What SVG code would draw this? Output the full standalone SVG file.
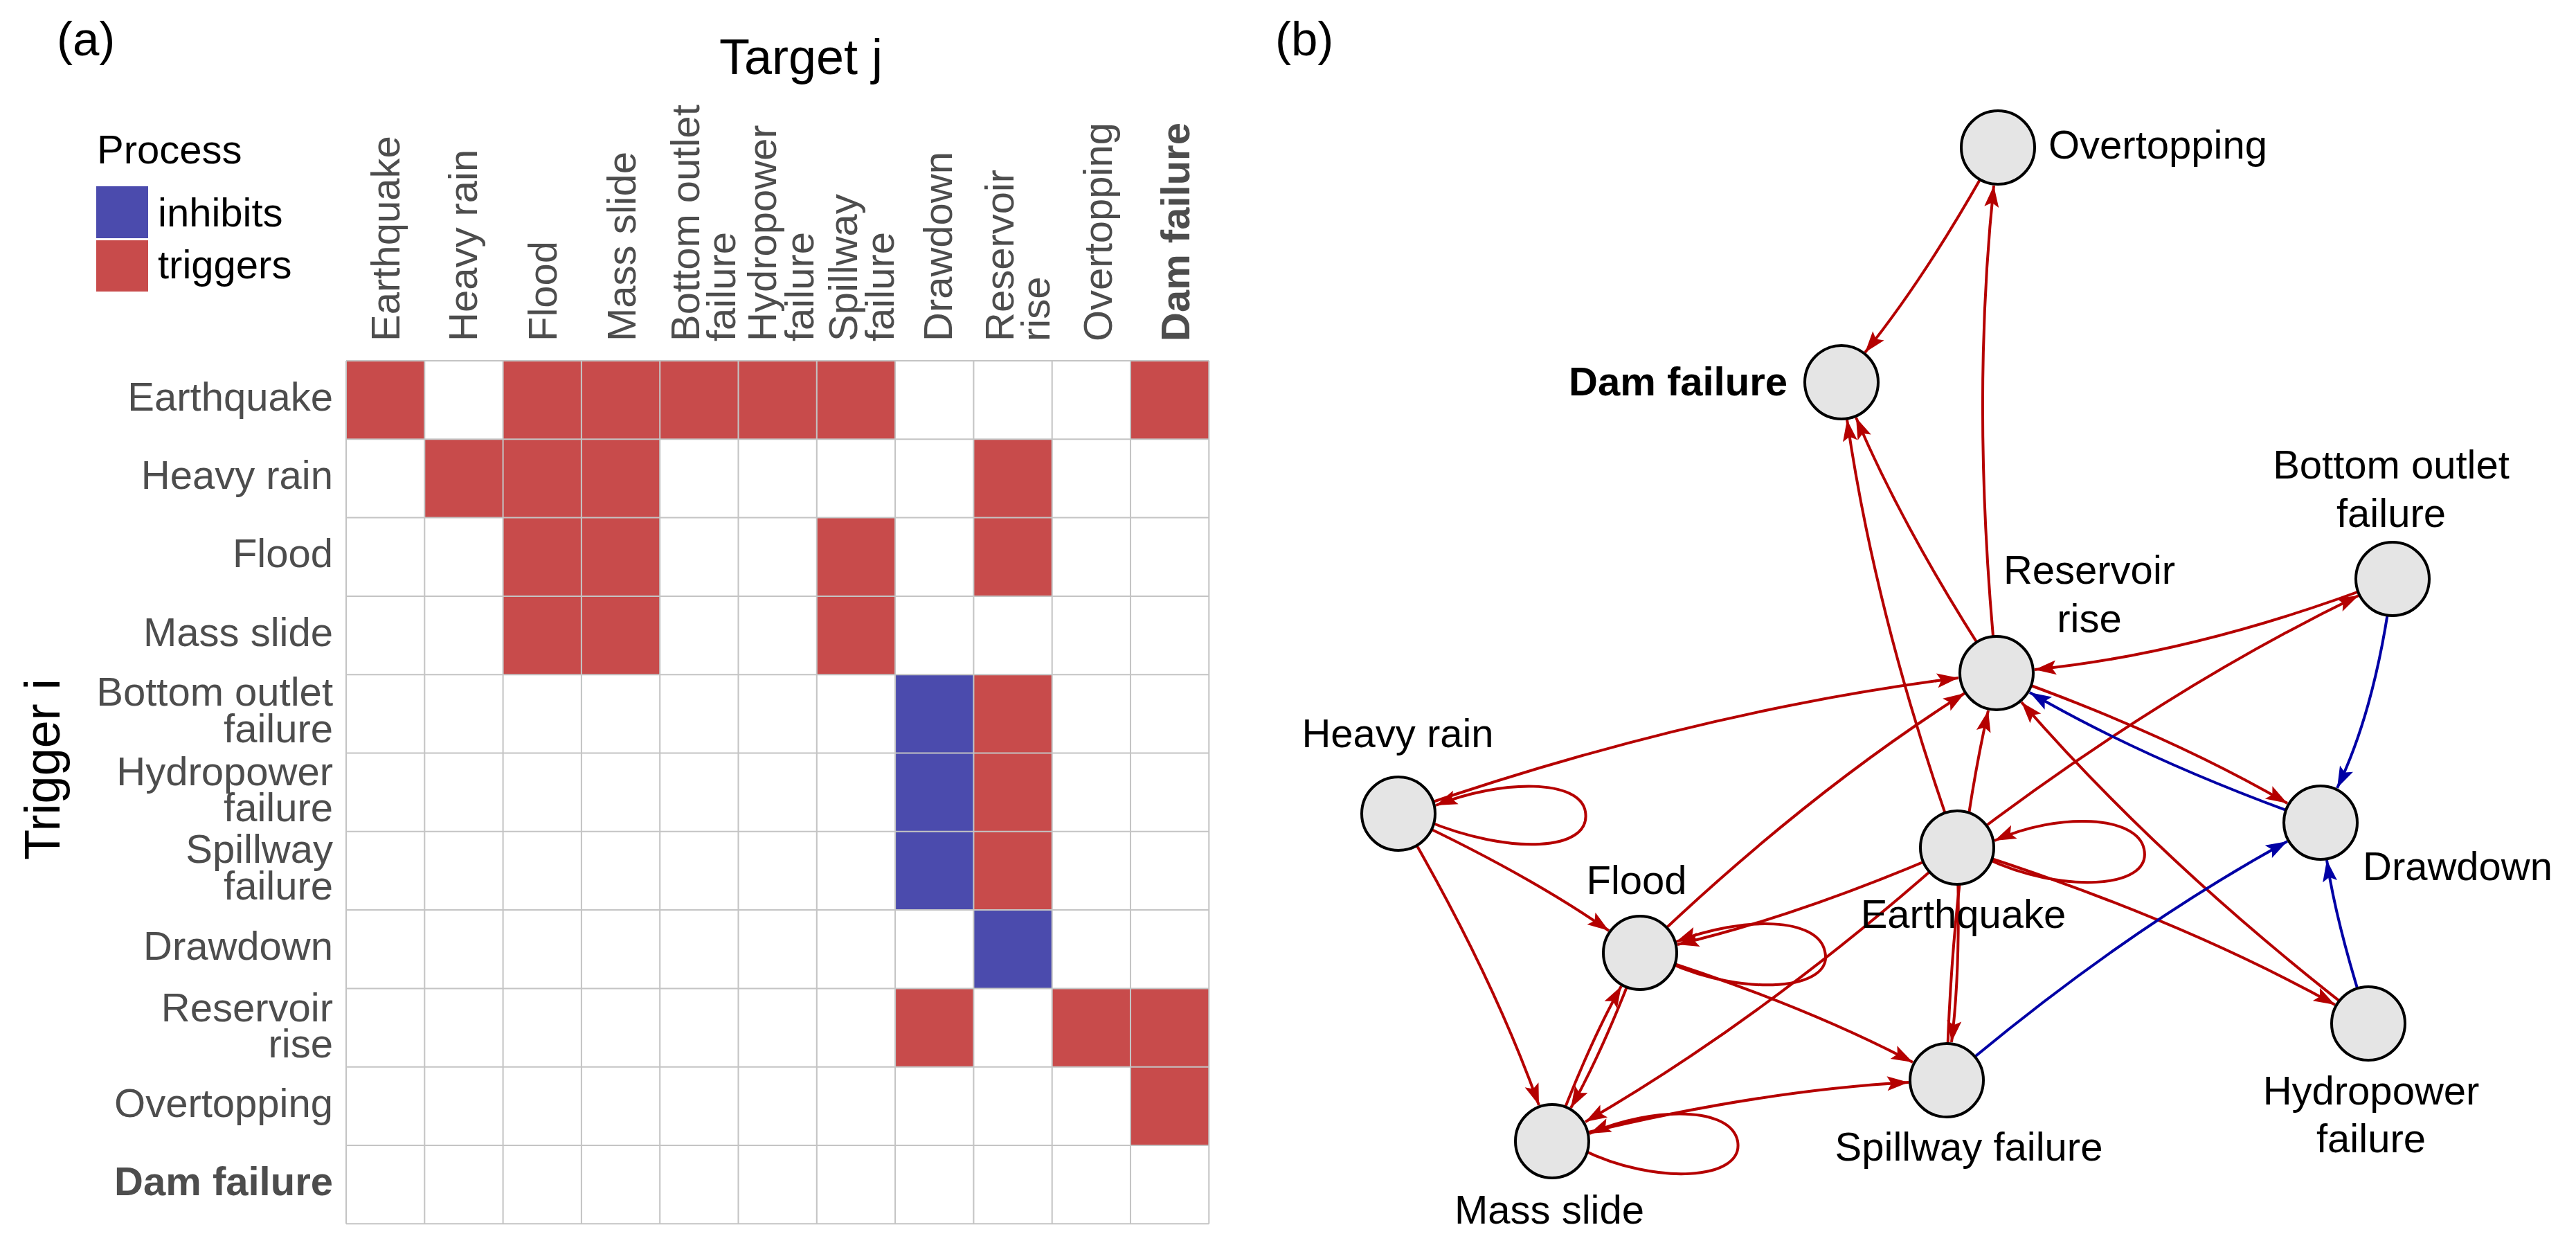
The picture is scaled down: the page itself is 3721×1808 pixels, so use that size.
<svg xmlns="http://www.w3.org/2000/svg" width="3721" height="1808" viewBox="0 0 3721 1808">
<style>
text{font-family:"Liberation Sans",Arial,Helvetica,sans-serif}
.ax{font-size:58px;fill:#4d4d4d}
.ttl{font-size:72px;fill:#000}
.lg{font-size:58px;fill:#000}
.pl{font-size:69px;fill:#000}
.b{font-weight:bold}
.tr{fill:#c84b4b}
.in{fill:#4b4bad}
.gl{stroke:#c4c4c4;stroke-width:1.8;fill:none}
.node circle{fill:#e5e5e5;stroke:#000;stroke-width:4}
.node text{font-size:58px;fill:#000}
.er{fill:none;stroke:#b50000;stroke-width:4;marker-end:url(#ar)}
.eb{fill:none;stroke:#0000a5;stroke-width:4;marker-end:url(#ab)}
</style>
<defs>
<marker id="ar" markerUnits="userSpaceOnUse" viewBox="-34 -12 36 24" markerWidth="36" markerHeight="24" refX="0" refY="0" orient="auto"><path d="M0,0 L-31,-10.5 L-25,0 L-31,10.5 Z" fill="#b50000"/></marker>
<marker id="ab" markerUnits="userSpaceOnUse" viewBox="-34 -12 36 24" markerWidth="36" markerHeight="24" refX="0" refY="0" orient="auto"><path d="M0,0 L-31,-10.5 L-25,0 L-31,10.5 Z" fill="#0000a5"/></marker>
</defs>
<rect width="3721" height="1808" fill="#fff"/>

<!-- Panel (a) -->
<g id="panel-a">
<text class="pl" x="82" y="80">(a)</text>
<text class="ttl" x="1157" y="107" text-anchor="middle">Target j</text>
<text class="ttl" transform="translate(86,1111) rotate(-90)" text-anchor="middle">Trigger i</text>
<g id="legend">
<text class="lg" x="140" y="236">Process</text>
<rect class="in" x="139" y="269" width="75" height="75"/>
<rect class="tr" x="139" y="347" width="75" height="74"/>
<text class="lg" x="228" y="327">inhibits</text>
<text class="lg" x="228" y="402">triggers</text>
</g>
<g id="col-labels" class="ax">
<text transform="translate(577,493) rotate(-90)">Earthquake</text>
<text transform="translate(689,493) rotate(-90)">Heavy rain</text>
<text transform="translate(804,493) rotate(-90)">Flood</text>
<text transform="translate(918,493) rotate(-90)">Mass slide</text>
<text transform="translate(1010,493) rotate(-90)"><tspan x="0" y="0">Bottom outlet</tspan><tspan x="0" y="52">failure</tspan></text>
<text transform="translate(1121,493) rotate(-90)"><tspan x="0" y="0">Hydropower</tspan><tspan x="0" y="54">failure</tspan></text>
<text transform="translate(1238,493) rotate(-90)"><tspan x="0" y="0">Spillway</tspan><tspan x="0" y="53">failure</tspan></text>
<text transform="translate(1375,493) rotate(-90)">Drawdown</text>
<text transform="translate(1464,493) rotate(-90)"><tspan x="0" y="0">Reservoir</tspan><tspan x="0" y="52">rise</tspan></text>
<text transform="translate(1606,493) rotate(-90)">Overtopping</text>
<text class="b" transform="translate(1718,493) rotate(-90)">Dam failure</text>
</g>
<g id="row-labels" class="ax" text-anchor="end">
<text x="481" y="593">Earthquake</text>
<text x="481" y="706">Heavy rain</text>
<text x="481" y="819">Flood</text>
<text x="481" y="933">Mass slide</text>
<text x="481" y="1019"><tspan x="481" y="1019">Bottom outlet</tspan><tspan x="481" y="1072">failure</tspan></text>
<text x="481" y="1134"><tspan x="481" y="1134">Hydropower</tspan><tspan x="481" y="1186">failure</tspan></text>
<text x="481" y="1246"><tspan x="481" y="1246">Spillway</tspan><tspan x="481" y="1299">failure</tspan></text>
<text x="481" y="1386">Drawdown</text>
<text x="481" y="1475"><tspan x="481" y="1475">Reservoir</tspan><tspan x="481" y="1527">rise</tspan></text>
<text x="481" y="1613">Overtopping</text>
<text class="b" x="481" y="1726">Dam failure</text>
</g>
<g id="matrix" transform="translate(500,521) scale(1.133)">
<rect width="1100" height="1100" fill="#fff"/>
<g class="tr">
<rect x="0" y="0" width="100" height="100"/>
<rect x="200" y="0" width="500" height="100"/>
<rect x="1000" y="0" width="100" height="100"/>
<rect x="100" y="100" width="300" height="100"/>
<rect x="800" y="100" width="100" height="200"/>
<rect x="200" y="200" width="200" height="200"/>
<rect x="600" y="200" width="100" height="200"/>
<rect x="800" y="400" width="100" height="300"/>
<rect x="700" y="800" width="100" height="100"/>
<rect x="900" y="800" width="200" height="100"/>
<rect x="1000" y="900" width="100" height="100"/>
</g>
<g class="in">
<rect x="700" y="400" width="100" height="300"/>
<rect x="800" y="700" width="100" height="100"/>
</g>
<path class="gl" d="M0,0V1100M100,0V1100M200,0V1100M300,0V1100M400,0V1100M500,0V1100M600,0V1100M700,0V1100M800,0V1100M900,0V1100M1000,0V1100M1100,0V1100M0,0H1100M0,100H1100M0,200H1100M0,300H1100M0,400H1100M0,500H1100M0,600H1100M0,700H1100M0,800H1100M0,900H1100M0,1000H1100M0,1100H1100"/>
</g>
</g>

<!-- Panel (b) -->
<text class="pl" x="1842" y="80">(b)</text>
<g id="connectors">
<path class="er" d="M2827,1224 Q2605,1321 2423,1364"/>
<path class="er" d="M2827,1224 Q2556,1466 2290,1620"/>
<path class="er" d="M2827,1224 Q3122,998 3407,860"/>
<path class="er" d="M2827,1224 Q3137,1321 3373,1451"/>
<path class="er" d="M2827,1224 Q2833,1393 2819,1505"/>
<path class="er" d="M2827,1224 Q2710,896 2668,606"/>
<path class="er" d="M2020,1175 Q2203,1260 2324,1344"/>
<path class="er" d="M2020,1175 Q2153,1401 2223,1596"/>
<path class="er" d="M2020,1175 Q2441,1028 2829,979"/>
<path class="er" d="M2369,1376 Q2316,1517 2269,1600"/>
<path class="er" d="M2369,1376 Q2599,1448 2763,1534"/>
<path class="er" d="M2369,1376 Q2606,1148 2838,1001"/>
<path class="er" d="M2242,1648 Q2295,1507 2342,1424"/>
<path class="er" d="M2242,1648 Q2523,1576 2757,1563"/>
<path class="eb" d="M3456,836 Q3433,1020 3376,1138"/>
<path class="er" d="M3456,836 Q3179,943 2939,967"/>
<path class="eb" d="M3421,1478 Q3375,1336 3361,1242"/>
<path class="er" d="M3421,1478 Q3127,1252 2920,1014"/>
<path class="eb" d="M2812,1560 Q3063,1347 3304,1215"/>
<path class="er" d="M2812,1560 Q2819,1262 2872,1026"/>
<path class="eb" d="M3352,1188 Q3108,1102 2932,1000"/>
<path class="er" d="M2884,972 Q3128,1058 3304,1160"/>
<path class="er" d="M2884,972 Q2846,592 2880,268"/>
<path class="er" d="M2884,972 Q2753,772 2681,603"/>
<path class="er" d="M2886,213 Q2788,392 2694,509"/>
<path class="er" d="M2060,1185 C2180,1235 2300,1230 2290,1172 C2282,1125 2170,1125 2074,1163"/>
<path class="er" d="M2410,1390 C2520,1440 2650,1430 2636,1374 C2626,1325 2520,1322 2421,1360"/>
<path class="er" d="M2285,1660 C2390,1712 2520,1705 2510,1648 C2500,1598 2390,1597 2296,1637"/>
<path class="er" d="M2870,1240 C2975,1290 3110,1285 3097,1226 C3087,1178 2975,1172 2881,1214"/>
</g>
<g id="n-dam-failure" class="node"><circle cx="2660" cy="552" r="53"/><text class="b" x="2582" y="571" text-anchor="end">Dam failure</text></g>
<g id="n-overtopping" class="node"><circle cx="2886" cy="213" r="53"/><text x="2959" y="229">Overtopping</text></g>
<g id="n-reservoir-rise" class="node"><circle cx="2884" cy="972" r="53"/><text text-anchor="middle"><tspan x="3018" y="843">Reservoir</tspan><tspan x="3018" y="913">rise</tspan></text></g>
<g id="n-bottom-outlet" class="node"><circle cx="3456" cy="836" r="53"/><text text-anchor="middle"><tspan x="3454" y="691">Bottom outlet</tspan><tspan x="3454" y="761">failure</tspan></text></g>
<g id="n-heavy-rain" class="node"><circle cx="2020" cy="1175" r="53"/><text x="2019" y="1079" text-anchor="middle">Heavy rain</text></g>
<g id="n-earthquake" class="node"><circle cx="2827" cy="1224" r="53"/><text x="2836" y="1340" text-anchor="middle">Earthquake</text></g>
<g id="n-drawdown" class="node"><circle cx="3352" cy="1188" r="53"/><text x="3413" y="1271">Drawdown</text></g>
<g id="n-flood" class="node"><circle cx="2369" cy="1376" r="53"/><text x="2364" y="1291" text-anchor="middle">Flood</text></g>
<g id="n-spillway" class="node"><circle cx="2812" cy="1560" r="53"/><text x="2844" y="1676" text-anchor="middle">Spillway failure</text></g>
<g id="n-hydropower" class="node"><circle cx="3421" cy="1478" r="53"/><text text-anchor="middle"><tspan x="3425" y="1595">Hydropower</tspan><tspan x="3425" y="1664">failure</tspan></text></g>
<g id="n-mass-slide" class="node"><circle cx="2242" cy="1648" r="53"/><text x="2238" y="1767" text-anchor="middle">Mass slide</text></g>
</svg>
